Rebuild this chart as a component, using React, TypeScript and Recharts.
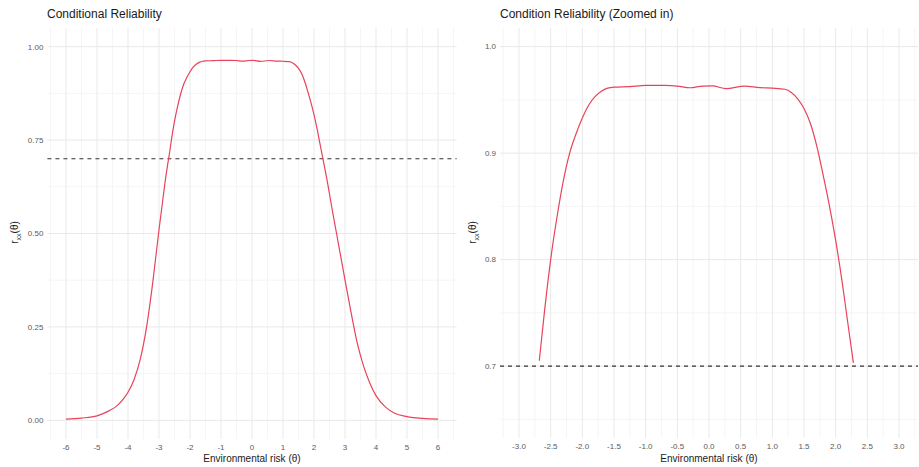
import React from "react";
import { LineChart, Line, XAxis, YAxis, ReferenceLine } from "recharts";

// conditional reliability curve
const thetaValues = [
  -6.0, -5.5, -5.0, -4.6, -4.4, -4.2, -4.0, -3.8, -3.6, -3.4, -3.2, -3.0, -2.9, -2.8, -2.72,
  -2.68, -2.6, -2.5, -2.4, -2.3, -2.2, -2.1, -2.0, -1.9, -1.8, -1.7, -1.6, -1.5, -1.25, -1.0,
  -0.7, -0.5, -0.3, -0.1, 0.05, 0.27, 0.56, 0.8, 1.0, 1.2, 1.3, 1.4, 1.5, 1.6, 1.7, 1.8, 1.9,
  2.0, 2.1, 2.2, 2.28, 2.4, 2.6, 2.8, 3.0, 3.2, 3.4, 3.6, 3.8, 4.0, 4.3, 4.6, 5.0, 5.5, 6.0,
];
const reliabilityValues = [
  0.003, 0.006, 0.012, 0.026, 0.036, 0.052, 0.075, 0.11, 0.165, 0.25, 0.37, 0.51, 0.575, 0.64,
  0.685, 0.705, 0.75, 0.8, 0.84, 0.874, 0.9, 0.918, 0.933, 0.945, 0.953, 0.958, 0.961, 0.962,
  0.9625, 0.9636, 0.9636, 0.963, 0.9614, 0.963, 0.9632, 0.9605, 0.963, 0.9615, 0.961, 0.96,
  0.957, 0.951, 0.942, 0.928, 0.907, 0.88, 0.851, 0.818, 0.78, 0.737, 0.703, 0.652, 0.558,
  0.467, 0.376, 0.287, 0.205, 0.145, 0.1, 0.066, 0.036, 0.019, 0.01, 0.005, 0.003,
];
const cutoff = 0.7;

const leftXTicks = [-6, -5, -4, -3, -2, -1, 0, 1, 2, 3, 4, 5, 6];
const leftXMinor = [-6.5, -5.5, -4.5, -3.5, -2.5, -1.5, -0.5, 0.5, 1.5, 2.5, 3.5, 4.5, 5.5, 6.5];
const leftYTicks = [0, 0.25, 0.5, 0.75, 1];
const leftYMinor = [0.125, 0.375, 0.625, 0.875];

const rightXTicks = [-3, -2.5, -2, -1.5, -1, -0.5, 0, 0.5, 1, 1.5, 2, 2.5, 3];
const rightXMinor = [-3.25, -2.75, -2.25, -1.75, -1.25, -0.75, -0.25, 0.25, 0.75, 1.25, 1.75, 2.25, 2.75, 3.25];
const rightYTicks = [0.7, 0.8, 0.9, 1.0];
const rightYMinor = [0.65, 0.75, 0.85, 0.95];

const fullData = thetaValues.map((t, i) => ({ theta: t, r: reliabilityValues[i] }));
const zoomData = fullData.filter((d) => d.r >= cutoff);

const FONT = "'Liberation Sans', Arial, sans-serif";
const RED = "#e8435a";
const MAJOR = "#e9e9e9";
const MINOR = "#f3f3f3";
const tickStyle = { fontSize: 8, fill: "#5a5a5a", fontFamily: FONT };

function panelLines(xMinor: number[], xMajor: number[], yMinor: number[], yMajor: number[]) {
  return [
    ...yMinor.map((v) => <ReferenceLine key={"ym" + v} y={v} stroke={MINOR} strokeWidth={0.8} />),
    ...xMinor.map((v) => <ReferenceLine key={"xm" + v} x={v} stroke={MINOR} strokeWidth={0.8} />),
    ...yMajor.map((v) => <ReferenceLine key={"yM" + v} y={v} stroke={MAJOR} strokeWidth={1} />),
    ...xMajor.map((v) => <ReferenceLine key={"xM" + v} x={v} stroke={MAJOR} strokeWidth={1} />),
  ];
}

function Title({ left, text }: { left: number; text: string }) {
  return (
    <div style={{ position: "absolute", left, top: 7, fontSize: 12, color: "#1a1a1a", fontFamily: FONT, whiteSpace: "nowrap" }}>
      {text}
    </div>
  );
}

function XTitle({ center }: { center: number }) {
  return (
    <div style={{ position: "absolute", left: center - 80, width: 160, top: 453, textAlign: "center", fontSize: 10, color: "#1a1a1a", fontFamily: FONT }}>
      Environmental risk (θ)
    </div>
  );
}

function YTitle({ center }: { center: number }) {
  return (
    <div
      style={{
        position: "absolute",
        left: center - 30,
        top: 226,
        width: 60,
        textAlign: "center",
        fontSize: 10,
        color: "#1a1a1a",
        fontFamily: FONT,
        transform: "rotate(-90deg)",
        whiteSpace: "nowrap",
      }}
    >
      r<sub style={{ fontSize: 7 }}>xx</sub>(θ)
    </div>
  );
}

export default function App() {
  return (
    <div style={{ position: "absolute", left: 0, top: 0, width: 919, height: 467, background: "#fff", overflow: "hidden" }}>
      <Title left={47} text="Conditional Reliability" />
      <Title left={500} text="Condition Reliability (Zoomed in)" />

      <div style={{ position: "absolute", left: 0, top: 0 }}>
        <LineChart width={460} height={467} data={fullData} margin={{ top: 28, right: 3.4, bottom: 0, left: 0 }}>
          <XAxis
            dataKey="theta"
            type="number"
            domain={[-6.6, 6.6]}
            ticks={leftXTicks}
            allowDataOverflow
            axisLine={false}
            tickLine={false}
            tickSize={3}
            tickMargin={2}
            height={28}
            tick={tickStyle}
            interval={0}
          />
          <YAxis
            type="number"
            domain={[-0.05, 1.05]}
            ticks={leftYTicks}
            allowDataOverflow
            axisLine={false}
            tickLine={false}
            tickSize={2}
            tickMargin={2}
            width={47.4}
            tick={tickStyle}
            interval={0}
            tickFormatter={(v: number) => v.toFixed(2)}
          />
          {panelLines(leftXMinor, leftXTicks, leftYMinor, leftYTicks)}
          <ReferenceLine y={cutoff} stroke="#333" strokeWidth={1.2} strokeDasharray="4 4" />
          <Line type="monotone" dataKey="r" stroke={RED} strokeWidth={1.2} dot={false} isAnimationActive={false} />
        </LineChart>
      </div>

      <div style={{ position: "absolute", left: 460, top: 0 }}>
        <LineChart width={459} height={467} data={zoomData} margin={{ top: 28, right: 1, bottom: 0, left: 0 }}>
          <XAxis
            dataKey="theta"
            type="number"
            domain={[-3.3, 3.3]}
            ticks={rightXTicks}
            allowDataOverflow
            axisLine={false}
            tickLine={false}
            tickSize={3}
            tickMargin={2}
            height={29}
            tick={tickStyle}
            interval={0}
            tickFormatter={(v: number) => v.toFixed(1)}
          />
          <YAxis
            type="number"
            domain={[0.6325, 1.0175]}
            ticks={rightYTicks}
            allowDataOverflow
            axisLine={false}
            tickLine={false}
            tickSize={2}
            tickMargin={2}
            width={40}
            tick={tickStyle}
            interval={0}
            tickFormatter={(v: number) => v.toFixed(1)}
          />
          {panelLines(rightXMinor, rightXTicks, rightYMinor, rightYTicks)}
          <ReferenceLine y={cutoff} stroke="#333" strokeWidth={1.2} strokeDasharray="4 4" />
          <Line type="monotone" dataKey="r" stroke={RED} strokeWidth={1.2} dot={false} isAnimationActive={false} />
        </LineChart>
      </div>

      <XTitle center={252} />
      <XTitle center={709} />
      <YTitle center={15} />
      <YTitle center={473} />
    </div>
  );
}
